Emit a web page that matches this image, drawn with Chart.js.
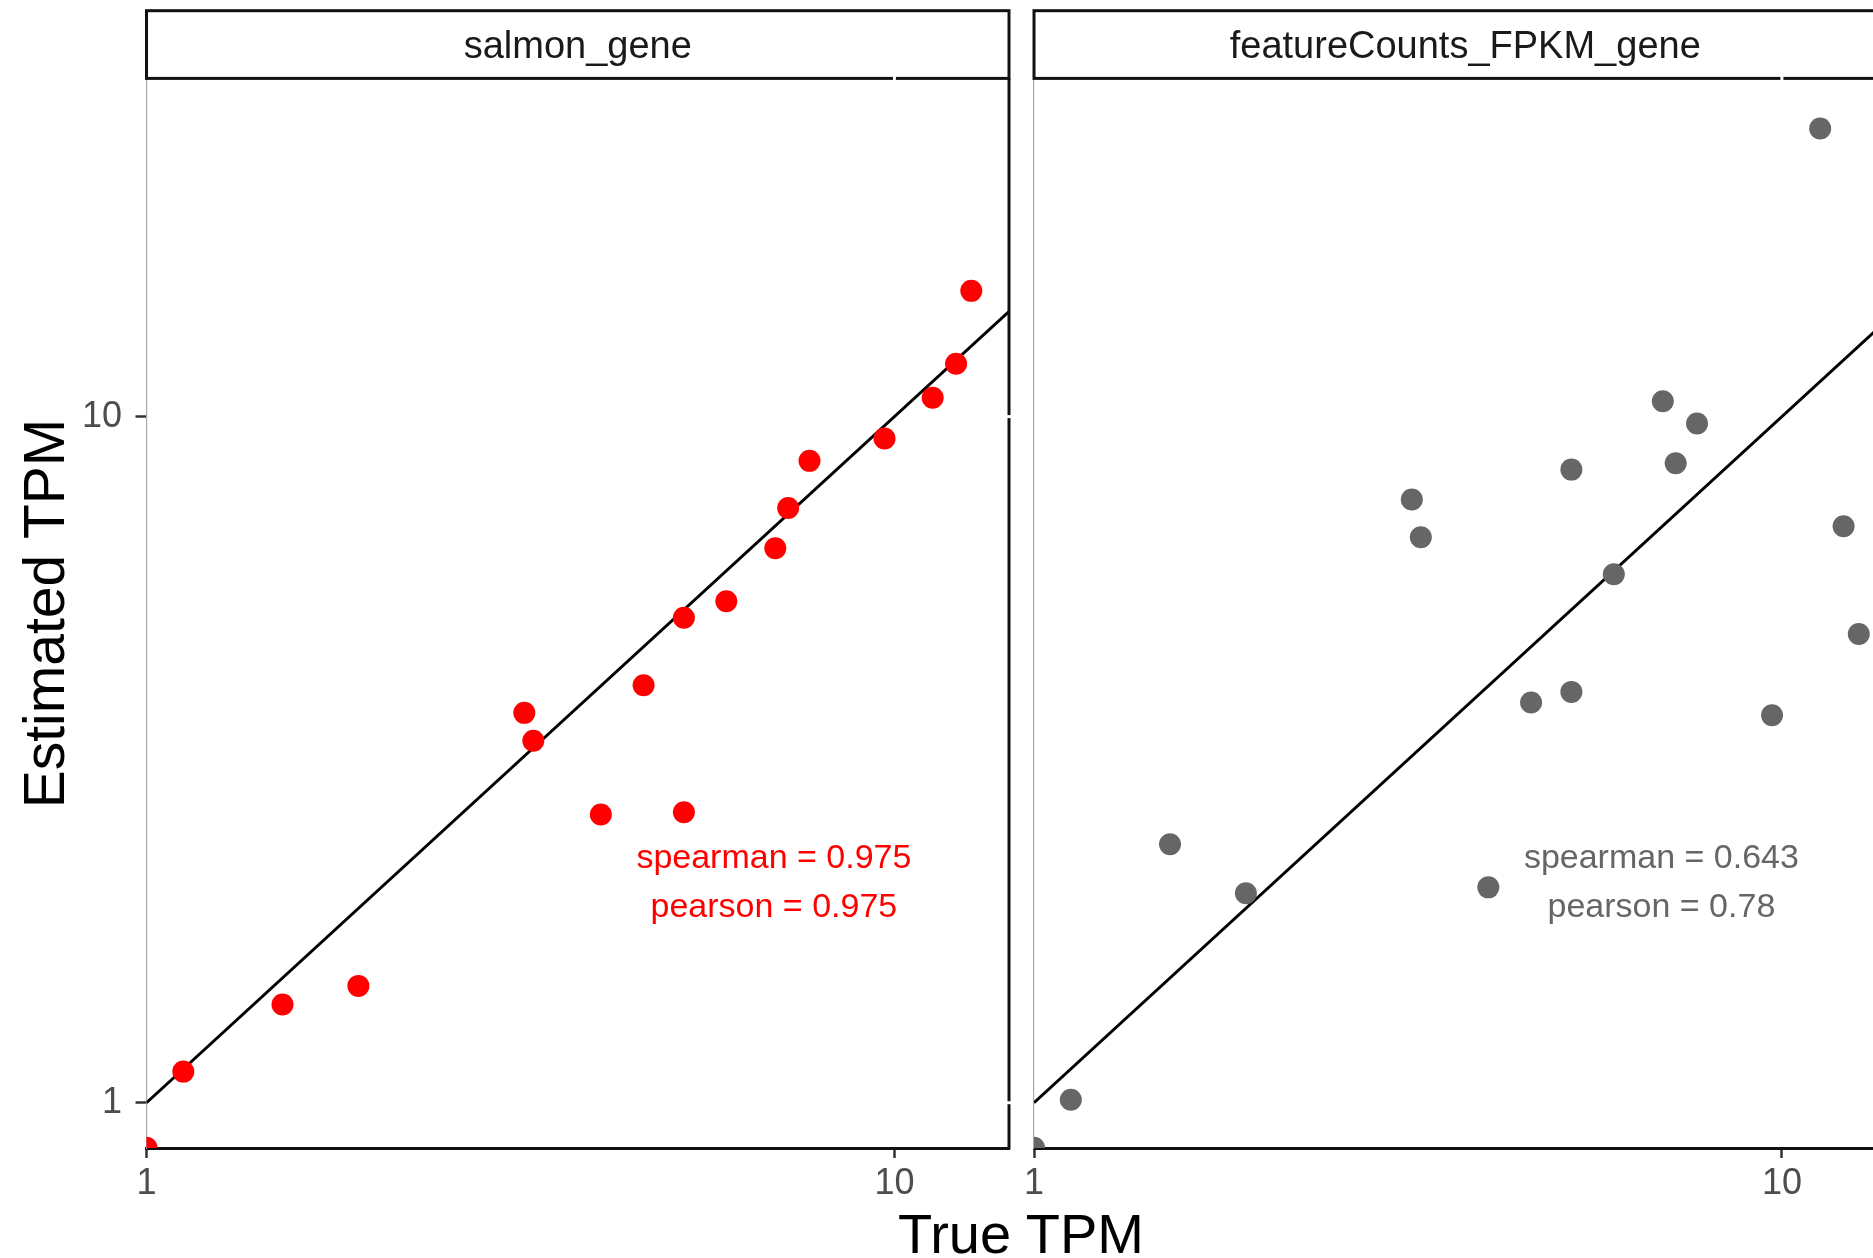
<!DOCTYPE html>
<html>
<head>
<meta charset="utf-8">
<script src="https://cdn.jsdelivr.net/npm/chart.js@4.4.0/dist/chart.umd.min.js"></script>
<style>
html, body { margin:0; padding:0; background:#fff; width:1873px; height:1258px; overflow:hidden; position:relative; }
canvas { position:absolute; top:0; }
#c1 { left:0; }
#c2 { left:1020px; }
#xtitle { position:absolute; left:0; width:2042px; top:1206px; text-align:center;
  font:56px/56px "Liberation Sans", Arial, sans-serif; color:#000; white-space:nowrap; }
</style>
</head>
<body>
<canvas id="c1" width="1020" height="1258"></canvas>
<canvas id="c2" width="890" height="1258"></canvas>
<div id="xtitle">True TPM</div>
<script>
// ---- data ----
const panels = ['salmon_gene', 'featureCounts_FPKM_gene'];
const trueTPM = [1.0, 1.12, 1.52, 1.92, 3.20, 3.29, 4.05, 4.62, 5.23, 5.23, 5.96, 6.93, 7.21, 7.70, 9.70, 11.25, 12.09, 12.67];
const salmonTPM = [0.86, 1.11, 1.39, 1.48, 3.70, 3.37, 2.63, 4.06, 5.09, 2.65, 5.38, 6.43, 7.36, 8.62, 9.29, 10.65, 11.94, 15.25];
const featureCountsTPM = [0.86, 1.01, 2.38, 2.02, 7.57, 6.67, 2.06, 3.83, 8.37, 3.97, 5.89, 10.53, 8.55, 9.77, 3.67, 26.3, 6.92, 4.82];
const pointColors = ['#ff0000', '#666666'];
const spearman = ['0.975', '0.643'];
const pearson = ['0.975', '0.78'];
const annotX = 6.9;
const annotY = 2.089;
const xTicks = [1, 10];
const yTicks = [1, 10];
const xRange = [1, 14.23];
const yRange = [0.859, 31.05];
const identityLine = [1, 40];

const FONT = '"Liberation Sans", Arial, Helvetica, sans-serif';

const deco = {
  id: 'deco',
  afterDraw(chart, args, o) {
    const { ctx, chartArea: a, scales } = chart;
    ctx.save();
    // right border of panel
    ctx.strokeStyle = '#111';
    ctx.lineWidth = 3;
    ctx.beginPath();
    ctx.moveTo(a.right, a.top);
    ctx.lineTo(a.right, a.bottom + 1.5);
    ctx.stroke();
    // strip
    const sTop = 10.7, sBot = 78.4;
    ctx.fillStyle = '#fff';
    ctx.fillRect(a.left, sTop, a.right - a.left, sBot - sTop);
    ctx.strokeStyle = '#111';
    ctx.lineWidth = 3;
    ctx.strokeRect(a.left, sTop, a.right - a.left, sBot - sTop);
    ctx.fillStyle = '#1a1a1a';
    ctx.font = '38px ' + FONT;
    ctx.textAlign = 'center';
    ctx.textBaseline = 'alphabetic';
    ctx.fillText(o.strip, (a.left + a.right) / 2, 58);
    // white tick notches
    ctx.strokeStyle = '#fff';
    ctx.lineWidth = 3;
    yTicks.forEach(v => {
      const py = scales.y.getPixelForValue(v);
      ctx.beginPath(); ctx.moveTo(a.right - 3, py); ctx.lineTo(a.right + 3, py); ctx.stroke();
    });
    xTicks.forEach(v => {
      const px = scales.x.getPixelForValue(v);
      if (px > a.left + 3 && px < a.right - 3) {
        ctx.beginPath(); ctx.moveTo(px, sBot - 3); ctx.lineTo(px, sBot + 3); ctx.stroke();
      }
    });
    // correlation annotation
    ctx.fillStyle = o.color;
    ctx.font = '34px ' + FONT;
    ctx.textAlign = 'center';
    ctx.textBaseline = 'middle';
    const ax = scales.x.getPixelForValue(annotX);
    const ay = scales.y.getPixelForValue(annotY);
    ctx.fillText('spearman = ' + o.spearman, ax, ay - 24.5);
    ctx.fillText('pearson = ' + o.pearson, ax, ay + 24.5);
    ctx.restore();
  }
};

function makePanel(id, idx, yVals, showY, padRight, yWidth) {
  const pts = trueTPM.map((x, i) => ({ x: x, y: yVals[i] }));
  return new Chart(document.getElementById(id), {
    type: 'scatter',
    data: {
      datasets: [
        { type: 'line', data: identityLine.map(v => ({ x: v, y: v })), borderColor: '#000', borderWidth: 3,
          pointRadius: 0, fill: false, clip: 0, order: 2, tension: 0 },
        { data: pts, backgroundColor: pointColors[idx], borderWidth: 0, pointRadius: 11,
          pointHoverRadius: 11, clip: 0, order: 1 }
      ]
    },
    options: {
      responsive: false,
      animation: false,
      events: [],
      layout: { padding: { top: 79, right: padRight, left: 0, bottom: 0 } },
      plugins: {
        legend: { display: false },
        tooltip: { enabled: false },
        deco: { strip: panels[idx], color: pointColors[idx], spearman: spearman[idx], pearson: pearson[idx] }
      },
      scales: {
        x: {
          type: 'logarithmic', min: xRange[0], max: xRange[1], z: 1,
          afterBuildTicks: s => { s.ticks = xTicks.map(v => ({ value: v })); },
          afterFit: s => { s.height = 110; },
          ticks: { font: { size: 36, family: FONT }, color: '#4d4d4d', padding: 4, maxRotation: 0,
                   autoSkip: false, callback: v => String(v) },
          grid: { display: true, drawOnChartArea: false, drawTicks: true, tickLength: 10,
                  tickColor: '#333', tickWidth: 2.5 },
          border: { display: true, color: '#111', width: 3 }
        },
        y: {
          type: 'logarithmic', min: yRange[0], max: yRange[1], z: 1,
          afterBuildTicks: s => { s.ticks = yTicks.map(v => ({ value: v })); },
          afterFit: s => { s.width = yWidth; },
          title: { display: showY, text: 'Estimated TPM', color: '#000',
                   font: { size: 57, family: FONT }, padding: { top: 14, bottom: 0 } },
          ticks: { display: showY, font: { size: 36, family: FONT }, color: '#4d4d4d', padding: 13.5,
                   autoSkip: false, callback: v => String(v) },
          grid: { display: showY, drawOnChartArea: false, drawTicks: true, tickLength: 11,
                  tickColor: '#333', tickWidth: 2.5 },
          border: { display: true, color: '#a8a8a8', width: 1.2 }
        }
      }
    },
    plugins: [deco]
  });
}

makePanel('c1', 0, salmonTPM, true, 10, 146.5);
makePanel('c2', 1, featureCountsTPM, false, 13.5, 13);
</script>
</body>
</html>
